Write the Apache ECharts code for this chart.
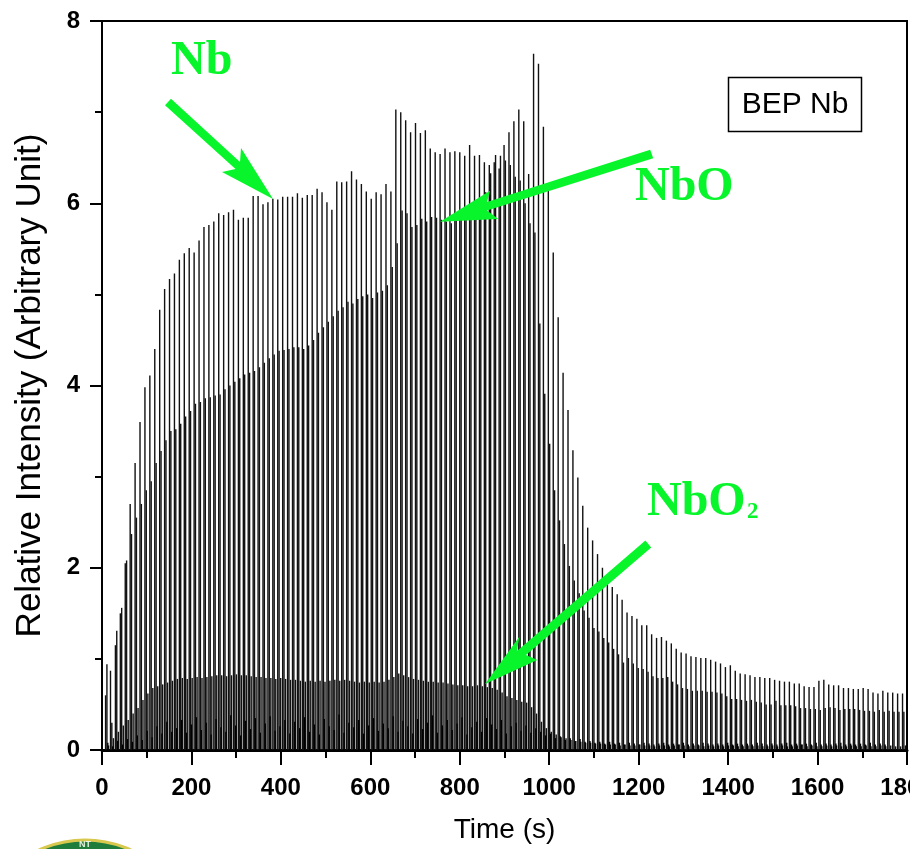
<!DOCTYPE html>
<html>
<head>
<meta charset="utf-8">
<style>html,body{margin:0;padding:0;background:#fff;overflow:hidden}#c{width:910px;height:849px}</style>
<script src="https://cdn.jsdelivr.net/npm/echarts@6/dist/echarts.min.js"></script>
</head>
<body>
<div id="c"></div>
<script>
const scanPeriod = 11, scanStart = 8;
const nbValues = [.60,.87,1.15,1.50,2.05,2.70,3.15,3.60,
3.98,4.11,4.40,4.83,5.06,5.17,5.23,5.38,5.45,5.51,5.46,5.59,5.74,5.76,5.80,5.89,5.87,5.90,5.93,5.82,5.84,5.84,6.08,6.08,5.99,6.01,6.05,6.04,6.07,6.07,6.07,6.11,
6.06,6.09,6.09,6.16,6.12,6.01,5.93,6.24,6.23,6.24,6.35,6.26,6.21,6.13,6.05,6.12,6.10,6.21,6.13,7.03,7.00,6.91,6.78,6.88,6.77,6.80,6.60,6.56,6.54,6.60,6.56,6.57,6.56,6.52,6.64,6.52,6.53,6.45,6.42,6.45,6.38,6.64,6.78,6.90,7.03,6.90,6.32,7.64,7.53,6.84,6.14,5.46,
4.75,4.14,3.73,3.29,2.99,2.68,2.44,2.30,2.15,2.00,1.86,
1.79,1.71,1.65,1.51,1.47,1.44,1.37,1.37,1.27,1.23,1.24,1.20,1.17,1.11,1.07,1.06,1.03,1.02,1.01,1.01,.99,.97,.95,.91,.93,.87,.84,.83,.82,.80,.80,.79,.79,.77,.76,.75,.75,.73,.73,.70,.69,.69,.76,.77,.72,.71,.71,.68,.68,.67,.67,.68,.67,.63,.62,.65,.63,.63,.62,.62];
const nboValues = [.94,.30,1.31,1.56,2.08,2.37,2.55,2.70,
2.85,2.95,3.15,3.28,3.40,3.50,3.52,3.58,3.66,3.72,3.80,3.82,3.86,3.87,3.89,3.90,3.96,4.00,4.04,4.08,4.12,4.14,4.16,4.20,4.25,4.30,4.34,4.38,4.39,4.40,4.42,4.42,
4.40,4.44,4.50,4.58,4.64,4.70,4.76,4.82,4.86,4.92,4.90,4.95,4.98,5.00,4.96,5.02,5.04,5.10,5.30,5.56,5.92,5.89,5.74,5.76,5.83,5.80,5.85,5.84,5.82,5.80,5.78,5.82,5.85,5.90,5.95,6.00,6.05,6.12,6.33,6.53,6.52,6.47,6.42,6.29,6.25,6.00,5.78,5.68,4.68,3.91,3.36,2.85,2.52,2.26,2.02,1.86,1.72,1.53,1.45,1.34,1.30,1.23,1.18,
1.11,1.05,.96,1.01,.95,.90,.89,.86,.81,.79,.79,.80,.75,.72,.68,.67,.65,.65,.65,.64,.64,.63,.62,.59,.56,.56,.55,.54,.55,.53,.52,.50,.50,.54,.49,.49,.49,.48,.46,.46,.45,.45,.44,.46,.47,.46,.44,.45,.45,.45,.44,.43,.43,.42,.44,.42,.43,.42,.42,.42];
const nbo2Values = [.05,.13,.20,.27,.33,.40,.46,.55,.62,.68,.70,.72,.74,.76,.78,.79,.78,.79,.80,.79,.80,.81,.82,.82,.81,.82,
.83,.82,.82,.81,.80,.80,.79,.79,.78,.79,.78,.77,.77,.76,.75,.76,.75,.76,.75,.76,.77,.76,.77,.76,.75,.74,.75,.74,.75,.74,.75,.77,.80,.84,.82,.80,.78,.77,.76,.75,.75,.74,.74,.73,.72,.71,.71,.70,.70,.71,.70,.69,.68,.66,.63,.59,.57,.55,.53,.52,.47,.40,.31,.24,.20,.17,.14,.13,.11,.10,.09,.08,.08,.07,.07,.06,.06,
.06,.05,.06,.05,.05,.06,.05,.05,.04,.05,.05,.04,.05,.06,.05,.04,.05,.05,.04,.05,.04,.05,.04,.05,.05,.04,.04,.05,.04,.05,.04,.04,.05,.04,.05,.04,.04,.05,.06,.04,.05,.04,.04,.05,.04,.05,.04,.04,.05,.04,.04,.05,.04,.04,.05,.04,.05,.04,.04,.05];
const lowValues = [.08,.04,.10,.06,.12,.09,.16,.11,.21,.14,.26,.18,.31,.20,.24,.33,.19,.28,.36,.22,.30,.17,.34,.25,.20,.38,.27,.16,.32,.23,.35,.19,.29,.37,.21,.26,.33,.18,.31,.24,
.36,.20,.28,.17,.34,.26,.22,.39,.19,.30,.25,.33,.18,.27,.35,.21,.29,.24,.37,.20,.32,.26,.18,.34,.23,.30,.38,.19,.27,.33,.22,.29,.36,.17,.25,.31,.20,.35,.28,.23,.33,.18,.26,.30,.21,.27,.19,.24,.20,.16,.18,.13,.15,.11,.13,.10,.12,.09,.10,.08,.09,.07,.09,
.07,.08,.06,.08,.07,.06,.08,.07,.06,.07,.08,.06,.07,.06,.08,.06,.07,.06,.08,.07,.06,.07,.06,.08,.06,.07,.06,.07,.06,.08,.07,.06,.07,.06,.07,.08,.06,.07,.06,.07,.06,.08,.06,.07,.06,.07,.08,.06,.07,.06,.07,.06,.08,.06,.07,.06];
const xTicks = {min:0,max:1800,interval:200};
const yTicks = {min:0,max:8,interval:2};
const xName = 'Time (s)';
const yName = 'Relative Intensity (Arbitrary Unit)';
const arrows = [
 [[171,98.7],[240,162],[241,148],[273,199],[222,172],[235.5,169],[165,105.3]],
 [[650.2,149.7],[487,202],[490,190.7],[440,221.7],[498.3,219],[487,210.5],[653.2,158.3]],
 [[645.4,540.6],[517,651],[519.3,636.7],[485,684],[537.3,660],[526,655],[651.2,547.4]]
];
const green = '#08f52c';
const spike = (values, offset) => values.map((v, k) => [scanStart + offset + k * scanPeriod, v]);
const bar = (name, values, offset, color) => ({
  name, type:'bar', data:spike(values, offset), barWidth:1.4, barGap:'-100%',
  itemStyle:{color}, silent:true, large:false, animation:false
});
const label = (text, x, y, size, extra) => ({
  type:'text', x, y, z:50,
  style:Object.assign({text, fill:green, font:'bold '+size+'px "Liberation Serif", serif', textVerticalAlign:'bottom'}, extra||{})
});
const chart = echarts.init(document.getElementById('c'), null, {renderer:'canvas', width:910, height:849});
chart.setOption({
  animation:false,
  backgroundColor:'#fff',
  grid:{left:102, right:3, top:21, bottom:99, show:true, borderColor:'#000', borderWidth:2, backgroundColor:'transparent', outerBoundsMode:'none', containLabel:false},
  xAxis:{
    type:'value', min:xTicks.min, max:xTicks.max, interval:xTicks.interval,
    name:xName, nameLocation:'middle', nameGap:66,
    nameTextStyle:{fontFamily:'Liberation Sans', fontSize:28, color:'#000'},
    axisLine:{onZero:false, lineStyle:{color:'#000', width:3}},
    axisTick:{show:true, inside:false, length:15, lineStyle:{color:'#000', width:2}},
    minorTick:{show:true, splitNumber:2, length:8, lineStyle:{color:'#000', width:2}},
    axisLabel:{margin:26, fontFamily:'Liberation Sans', fontWeight:'bold', fontSize:24, color:'#000', hideOverlap:false, showMaxLabel:true, formatter:v => String(v)},
    splitLine:{show:false}
  },
  yAxis:{
    type:'value', min:yTicks.min, max:yTicks.max, interval:yTicks.interval,
    name:yName, nameLocation:'middle', nameGap:54,
    nameTextStyle:{fontFamily:'Liberation Sans', fontSize:35, color:'#000'},
    axisLine:{onZero:false, lineStyle:{color:'#000', width:2}},
    axisTick:{show:true, inside:false, length:12, lineStyle:{color:'#000', width:2}},
    minorTick:{show:true, splitNumber:2, length:7, lineStyle:{color:'#000', width:2}},
    axisLabel:{margin:22, fontFamily:'Liberation Sans', fontWeight:'bold', fontSize:24, color:'#000'},
    splitLine:{show:false}
  },
  series:[
    bar('Nb', nbValues, 0, '#111'),
    bar('NbO', nboValues, 3, '#111'),
    bar('NbO2', nbo2Values, 6.6, '#111'),
    bar('Background', lowValues, 5, '#000')
  ],
  graphic:[
    ...arrows.map(points => ({type:'polygon', z:40, shape:{points}, style:{fill:green}})),
    label('Nb', 171, 86, 48),
    label('NbO', 635, 212, 48),
    label('NbO', 647, 527, 48),
    label('2', 747, 524, 23),
    {type:'rect', z:40, shape:{x:728.5,y:77.5,width:133,height:54}, style:{fill:'#fff', stroke:'#000', lineWidth:1.5}},
    {type:'text', z:41, x:795, y:104.5, style:{text:'BEP Nb', fill:'#000', font:'30px "Liberation Sans", sans-serif', textAlign:'center', textVerticalAlign:'middle'}},
    {type:'circle', z:30, shape:{cx:85,cy:950,r:110}, style:{fill:'#1f7d3c', stroke:'#d8c84e', lineWidth:3}},
    {type:'text', z:31, x:85, y:849, style:{text:'NT', fill:'#e8f0e0', font:'bold 9px "Liberation Sans", sans-serif', textAlign:'center', textVerticalAlign:'bottom'}}
  ]
});
</script>
</body>
</html>
